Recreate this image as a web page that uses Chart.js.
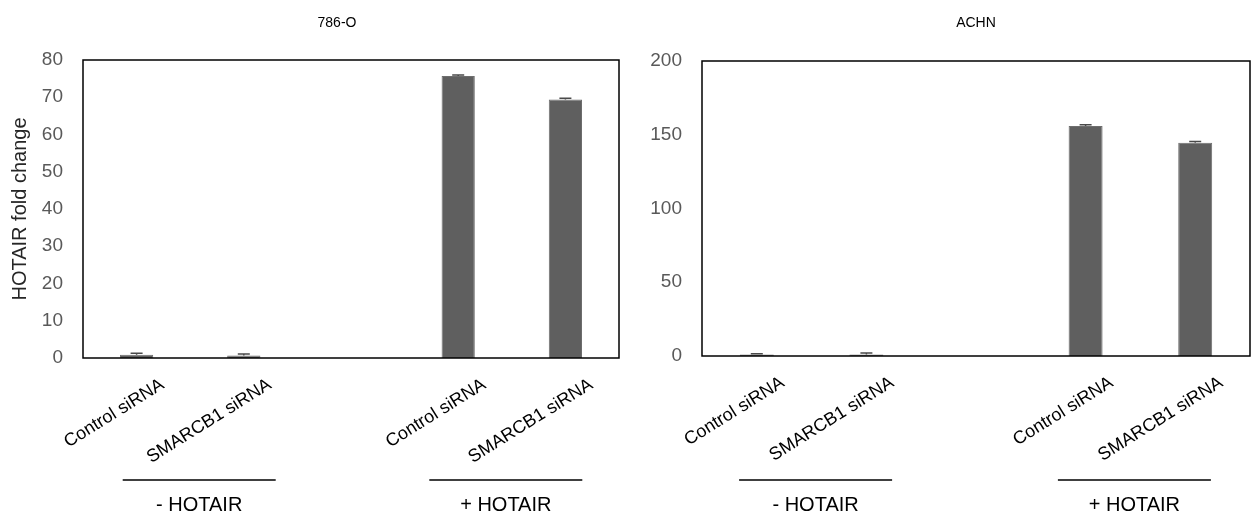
<!DOCTYPE html>
<html>
<head>
<meta charset="utf-8">
<script src="https://cdn.jsdelivr.net/npm/chart.js@4/dist/chart.umd.min.js"></script>
<style>
  body { margin: 0; background: #fff; }
  .panel { position: absolute; top: 0; width: 626px; height: 518px; }
</style>
</head>
<body>
<div class="panel" style="left:0"><canvas id="chart-786o" width="626" height="518"></canvas></div>
<div class="panel" style="left:626px"><canvas id="chart-achn" width="626" height="518"></canvas></div>
<script>
const categories = ['Control siRNA', 'SMARCB1 siRNA', '', 'Control siRNA', 'SMARCB1 siRNA'];
const groupLabels = ['- HOTAIR', '+ HOTAIR'];
const groupMembers = [[0, 1], [3, 4]];

const values786O = [0.9, 0.7, null, 75.7, 69.4];
const errors786O = [0.35, 0.35, null, 0.3, 0.3];
const valuesACHN = [1.0, 1.1, null, 156, 144.6];
const errorsACHN = [0.6, 0.9, null, 0.8, 0.8];

Chart.defaults.font.family = '"Liberation Sans", Arial, sans-serif';

const BAR_COLOR = '#5f5f5f';

// box, error bars, panel title, group lines
const decorPlugin = {
    id: 'decor',
    afterDatasetsDraw(chart, args, opts) {
        const ctx = chart.ctx;
        const area = chart.chartArea;
        const yScale = chart.scales.y;
        const xScale = chart.scales.x;
        const meta = chart.getDatasetMeta(0);
        const values = chart.data.datasets[0].data;

        ctx.save();
        // error bars
        ctx.strokeStyle = '#4a4a4a';
        ctx.lineWidth = 1.5;
        values.forEach((v, i) => {
            if (v === null) return;
            const x = meta.data[i].x;
            const yTop = yScale.getPixelForValue(v + opts.errors[i]);
            const yVal = yScale.getPixelForValue(v);
            ctx.beginPath();
            ctx.moveTo(x, yVal);
            ctx.lineTo(x, yTop);
            ctx.moveTo(x - 6, yTop);
            ctx.lineTo(x + 6, yTop);
            ctx.stroke();
        });

        // plot box
        ctx.strokeStyle = '#000';
        ctx.lineWidth = 1.5;
        ctx.strokeRect(area.left, area.top, area.right - area.left, area.bottom - area.top);

        // title
        ctx.fillStyle = '#000';
        ctx.font = '14px "Liberation Sans", Arial, sans-serif';
        ctx.textAlign = 'center';
        ctx.textBaseline = 'middle';
        ctx.fillText(opts.title, opts.titleX, 23);

        // group lines and labels
        ctx.font = '20px "Liberation Sans", Arial, sans-serif';
        groupMembers.forEach((members, g) => {
            const a = xScale.getPixelForValue(members[0]);
            const b = xScale.getPixelForValue(members[1]);
            const mid = (a + b) / 2 + opts.groupShift[g];
            ctx.beginPath();
            ctx.moveTo(mid - 76.5, 480);
            ctx.lineTo(mid + 76.5, 480);
            ctx.stroke();
            ctx.fillText(groupLabels[g], mid, 505);
        });
        ctx.restore();
    }
};

function makeChart(canvasId, values, errors, cfg) {
    return new Chart(document.getElementById(canvasId), {
        type: 'bar',
        data: {
            labels: categories,
            datasets: [{
                data: values,
                backgroundColor: BAR_COLOR,
                borderColor: '#6e6e6e',
                borderWidth: 1,
                barPercentage: 0.31,
                categoryPercentage: 1
            }]
        },
        options: {
            responsive: false,
            animation: false,
            layout: { padding: { top: cfg.top, right: cfg.right, left: 0, bottom: 0 } },
            plugins: {
                legend: { display: false },
                tooltip: { enabled: false },
                decor: { errors: errors, title: cfg.title, titleX: cfg.titleX, groupShift: cfg.groupShift }
            },
            scales: {
                x: {
                    grid: { display: false },
                    border: { display: false },
                    ticks: {
                        autoSkip: false,
                        minRotation: 32,
                        maxRotation: 32,
                        color: '#000',
                        font: { size: 18 },
                        padding: 8,
                        labelOffset: 26
                    },
                    afterFit(scale) { scale.height = cfg.xHeight; }
                },
                y: {
                    min: 0,
                    max: cfg.max,
                    grid: { display: false, drawTicks: false },
                    border: { display: false },
                    ticks: {
                        stepSize: cfg.step,
                        color: '#595959',
                        font: { size: 19 },
                        padding: 20
                    },
                    title: {
                        display: !!cfg.yTitle,
                        text: cfg.yTitle || '',
                        color: '#262626',
                        font: { size: 20 },
                        padding: { top: 8, bottom: 0 }
                    },
                    afterFit(scale) { scale.width = cfg.yWidth; }
                }
            }
        },
        plugins: [decorPlugin]
    });
}

makeChart('chart-786o', values786O, errors786O, {
    title: '786-O', titleX: 337, top: 60, right: 7, xHeight: 160, yWidth: 83,
    max: 80, step: 10, yTitle: 'HOTAIR fold change', groupShift: [9, -6]
});

makeChart('chart-achn', valuesACHN, errorsACHN, {
    title: 'ACHN', titleX: 350, top: 61, right: 2, xHeight: 162, yWidth: 76,
    max: 200, step: 50, yTitle: null, groupShift: [4, -6]
});
</script>
</body>
</html>
